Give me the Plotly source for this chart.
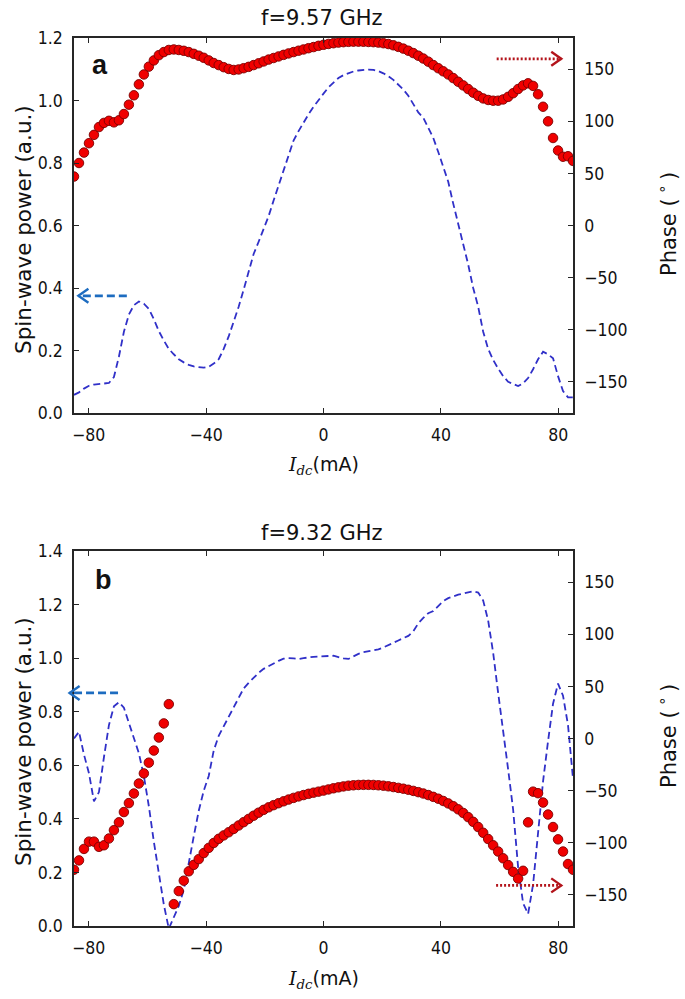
import plotly.graph_objects as go

# ---------------- data ----------------
I_dc = [-85.0, -83.3, -81.6, -79.9, -78.2, -76.5, -74.8, -73.1, -71.4, -69.7,
        -68.0, -66.3, -64.6, -62.9, -61.2, -59.5, -57.8, -56.1, -54.4, -52.7,
        -51.0, -49.3, -47.6, -45.9, -44.2, -42.5, -40.8, -39.1, -37.4, -35.7,
        -34.0, -32.3, -30.6, -28.9, -27.2, -25.5, -23.8, -22.1, -20.4, -18.7,
        -17.0, -15.3, -13.6, -11.9, -10.2, -8.5, -6.8, -5.1, -3.4, -1.7,
        0.0, 1.7, 3.4, 5.1, 6.8, 8.5, 10.2, 11.9, 13.6, 15.3,
        17.0, 18.7, 20.4, 22.1, 23.8, 25.5, 27.2, 28.9, 30.6, 32.3,
        34.0, 35.7, 37.4, 39.1, 40.8, 42.5, 44.2, 45.9, 47.6, 49.3,
        51.0, 52.7, 54.4, 56.1, 57.8, 59.5, 61.2, 62.9, 64.6, 66.3,
        68.0, 69.7, 71.4, 73.1, 74.8, 76.5, 78.2, 79.9, 81.6, 83.3, 85.0]

# panel a (f = 9.57 GHz)
power_a = [0.058, 0.066, 0.078, 0.087, 0.091, 0.093, 0.094, 0.096, 0.115, 0.18,
           0.26, 0.315, 0.345, 0.357, 0.35, 0.333, 0.30, 0.262, 0.232, 0.205,
           0.188, 0.172, 0.162, 0.154, 0.149, 0.146, 0.145, 0.148, 0.158, 0.172,
           0.205, 0.245, 0.29, 0.34, 0.395, 0.45, 0.509, 0.548, 0.587, 0.63,
           0.68, 0.727, 0.777, 0.826, 0.872, 0.902, 0.93, 0.956, 0.98, 1.003,
           1.022, 1.042, 1.058, 1.072, 1.081, 1.088, 1.093, 1.096, 1.098, 1.099,
           1.098, 1.094, 1.087, 1.078, 1.066, 1.052, 1.035, 1.015, 0.99, 0.962,
           0.945, 0.915, 0.88, 0.835, 0.79, 0.74, 0.67, 0.60, 0.54, 0.475,
           0.40, 0.34, 0.26, 0.205, 0.17, 0.142, 0.118, 0.10, 0.092, 0.086,
           0.095, 0.112, 0.14, 0.172, 0.196, 0.188, 0.175, 0.118, 0.07, 0.05, 0.05]
phase_a = [47, 60, 70, 79, 87, 94.5, 98.5, 100.5, 99, 101,
           107, 116, 125, 135.5, 145, 152.5, 158.5, 163.5, 166.5, 168.5,
           169, 168.5, 167.7, 166.5, 164.8, 163, 161, 158.5, 156, 154,
           152, 150.3, 149.3, 149.8, 151, 152.3, 154, 155.7, 157.5, 159.3,
           160.8, 162.3, 163.8, 165.2, 166.5, 167.8, 169, 170.2, 171.3, 172.5,
           173.5, 174.3, 175, 175.6, 176, 176.3, 176.5, 176.5, 176.4, 176.2,
           176, 175.6, 175, 174.2, 173, 171.5, 169.8, 167.8, 165.5, 163,
           160.3, 157.3, 154, 151, 148, 145, 141.5, 138, 134.5, 131,
           127.5, 124.5, 122, 120.5, 119.8, 119.8, 121, 123.5, 127, 131,
           134.5, 136.5, 134, 126, 114, 100, 84, 72, 66, 66.5, 62]

# panel b (f = 9.32 GHz)
power_b = [0.70, 0.725, 0.64, 0.57, 0.465, 0.50, 0.63, 0.75, 0.82, 0.835,
           0.815, 0.757, 0.705, 0.645, 0.56, 0.447, 0.315, 0.19, 0.08, -0.01,
           0.03, 0.075, 0.135, 0.24, 0.335, 0.43, 0.505, 0.56, 0.655, 0.71,
           0.745, 0.785, 0.82, 0.853, 0.887, 0.908, 0.928, 0.945, 0.96, 0.971,
           0.98, 0.99, 0.998, 1.0, 0.999, 0.997, 1.0, 1.003, 1.005, 1.006,
           1.007, 1.009, 1.009, 1.004, 0.999, 0.997, 1.008, 1.016, 1.022, 1.026,
           1.03, 1.033, 1.04, 1.048, 1.056, 1.066, 1.075, 1.083, 1.10, 1.13,
           1.15, 1.168, 1.176, 1.195, 1.213, 1.224, 1.232, 1.237, 1.241, 1.246,
           1.25, 1.245, 1.215, 1.14, 1.02, 0.87, 0.733, 0.585, 0.435, 0.22,
           0.085, 0.045, 0.155, 0.34, 0.54, 0.69, 0.83, 0.905, 0.86, 0.75, 0.55]
phase_b = [-126, -117, -106, -99, -99, -104, -102.5, -96, -88, -80.5,
           -70.6, -62, -52.8, -43.2, -33.5, -23.2, -11.6, 0.9, 14.5, 33,
           -159, -146.5, -136.5, -127.5, -121.3, -115.8, -110, -105, -100.3, -96.3,
           -93, -90, -86.8, -83.5, -80.3, -77.2, -74.1, -71.2, -68.5, -66.1,
           -64, -62.1, -60.3, -58.6, -57, -55.6, -54.3, -53.1, -52, -51,
           -50, -48.9, -47.8, -46.9, -46, -45.3, -44.9, -44.6, -44.5, -44.5,
           -44.6, -44.9, -45.3, -45.9, -46.6, -47.4, -48.2, -49.2, -50.3, -51.5,
           -52.8, -54.3, -56, -57.8, -60, -62.3, -65, -68, -71.5, -75.5,
           -80, -85, -90.5, -96.5, -102.5, -108.5, -115, -121.5, -128, -134.5,
           -127, -80.5, -51, -52.5, -61.5, -73, -85, -96.8, -108.5, -120.5, -126]

panel_titles = ["f=9.57 GHz", "f=9.32 GHz"]
panel_letters = ["a", "b"]
x_ticks = [-80, -40, 0, 40, 80]
power_ticks_a = [0.0, 0.2, 0.4, 0.6, 0.8, 1.0, 1.2]
power_ticks_b = [0.0, 0.2, 0.4, 0.6, 0.8, 1.0, 1.2, 1.4]
phase_ticks = [-150, -100, -50, 0, 50, 100, 150]

# ---------------- layout geometry ----------------
W, H = 685, 999
ML, MR, MT, MB = 74, 112, 38, 73
PW = W - ML - MR
PH = H - MT - MB
X_RANGE = [-85, 85]
PHASE_RANGE = [-180, 180]
POW_A_RANGE = [0, 1.2]
POW_B_RANGE = [0, 1.4]


def py(pix):  # pixel row -> paper y
    return (H - MB - pix) / PH


def pxl(pix):  # pixel column -> paper x
    return (pix - ML) / PW


DOM_A = [py(413), 1.0]
DOM_B = [0.0, py(551)]

FONT = "DejaVu Sans Condensed, DejaVu Sans, sans-serif"
FONT_LBL = "DejaVu Sans, sans-serif"
AXC = "#262626"
DASH_C = "#3030c8"
DOT_FILL = "#f00000"
DOT_EDGE = "#7a0000"

fig = go.Figure()

for power, phase, xa, yp, yph in [(power_a, phase_a, "x", "y", "y2"),
                                  (power_b, phase_b, "x2", "y3", "y4")]:
    fig.add_trace(go.Scatter(x=I_dc, y=power, mode="lines", xaxis=xa, yaxis=yp,
                             line=dict(color=DASH_C, width=1.8, dash="7px,4px"),
                             showlegend=False, hoverinfo="skip"))
    fig.add_trace(go.Scatter(x=I_dc, y=phase, mode="markers", xaxis=xa, yaxis=yph,
                             marker=dict(size=9.5, color=DOT_FILL,
                                         line=dict(color=DOT_EDGE, width=0.9)),
                             showlegend=False, hoverinfo="skip"))

tickfont = dict(family=FONT, size=17.5, color="#111")
common_axis = dict(showline=True, linecolor=AXC, linewidth=1.5, ticks="inside",
                   ticklen=5, tickwidth=1, tickcolor=AXC, showgrid=False,
                   zeroline=False, tickfont=tickfont, automargin=False)

xax = dict(common_axis, range=X_RANGE, tickvals=x_ticks, mirror="ticks",
           ticklabelstandoff=5, domain=[0, 1])
fig.update_layout(
    xaxis=dict(xax, anchor="y"),
    xaxis2=dict(xax, anchor="y3"),
    yaxis=dict(common_axis, range=POW_A_RANGE, tickvals=power_ticks_a,
               tickformat=".1f", domain=DOM_A, anchor="x", ticklabelstandoff=6),
    yaxis2=dict(common_axis, range=PHASE_RANGE, tickvals=phase_ticks,
                overlaying="y", side="right", anchor="x", ticklabelstandoff=6),
    yaxis3=dict(common_axis, range=POW_B_RANGE, tickvals=power_ticks_b,
                tickformat=".1f", domain=DOM_B, anchor="x2", ticklabelstandoff=6),
    yaxis4=dict(common_axis, range=PHASE_RANGE, tickvals=phase_ticks,
                overlaying="y3", side="right", anchor="x2", ticklabelstandoff=6),
)

# ---------------- text ----------------
ann = []
title_rows = [18, 533]
letter_pos = [(100, 65), (103, 580)]
xlabel_rows = [465, 980]
ylabel_rows = [230, 742]


def label(text, xp, yp, size, family=FONT_LBL, angle=0):
    return dict(text=text, x=pxl(xp), y=py(yp), xref="paper", yref="paper",
                xanchor="center", yanchor="middle", showarrow=False,
                textangle=angle, font=dict(family=family, size=size, color="#111"))


for i in range(2):
    ann.append(label(panel_titles[i], 322, title_rows[i], 21))
    ann.append(label("<b>%s</b>" % panel_letters[i], letter_pos[i][0],
                     letter_pos[i][1], 27, family="Liberation Sans, Arial, sans-serif"))
    ann.append(label("<span style='font-family:DejaVu Serif'><i>I</i>"
                     "<sub><i>dc</i></sub></span>(mA)", 323, xlabel_rows[i], 19))
    ann.append(label("Spin-wave power (a.u.)", 23, ylabel_rows[i], 21.5, angle=-90))
    ann.append(label("Phase (<sup> ∘ </sup>)", 667, ylabel_rows[i] - 6, 21, angle=-90))

# ---------------- axis-pointing arrows ----------------
# (x_tail, x_tip, value, axis range, domain, colour, dash)
arrows = [
    (-67.0, -83.5, 0.375, POW_A_RANGE, DOM_A, "#1d6cc0", "8px,4px"),
    (59.0, 81.0, 160.0, PHASE_RANGE, DOM_A, "#b3141b", "2px,2px"),
    (-70.0, -86.5, 0.87, POW_B_RANGE, DOM_B, "#1d6cc0", "8px,4px"),
    (58.8, 81.0, -141.0, PHASE_RANGE, DOM_B, "#b3141b", "2px,2px"),
]


def to_paper(xv, yv, yr, dom):
    return ((xv - X_RANGE[0]) / (X_RANGE[1] - X_RANGE[0]),
            dom[0] + (yv - yr[0]) / (yr[1] - yr[0]) * (dom[1] - dom[0]))


shapes = []
for xt, xh, v, yr, dom, col, dash in arrows:
    x0, y0 = to_paper(xt, v, yr, dom)
    x1, _ = to_paper(xh, v, yr, dom)
    shapes.append(dict(type="line", xref="paper", yref="paper", x0=x0, y0=y0,
                       x1=x1, y1=y0, line=dict(color=col, width=2.8, dash=dash)))
    s = -1 if xh > xt else 1
    shapes.append(dict(type="path", xref="paper", yref="paper",
                       xsizemode="pixel", ysizemode="pixel", xanchor=x1, yanchor=y0,
                       path="M %d,7 L 0,0 L %d,-7" % (10 * s, 10 * s),
                       line=dict(color=col, width=2.4)))

fig.update_layout(
    width=W, height=H, margin=dict(l=ML, r=MR, t=MT, b=MB, autoexpand=False),
    paper_bgcolor="white", plot_bgcolor="white",
    annotations=ann, shapes=shapes, showlegend=False,
)

fig.write_html("out.html", config={"displayModeBar": False},
               post_script="document.body.style.margin='0';"
                           "document.body.style.padding='0';")
